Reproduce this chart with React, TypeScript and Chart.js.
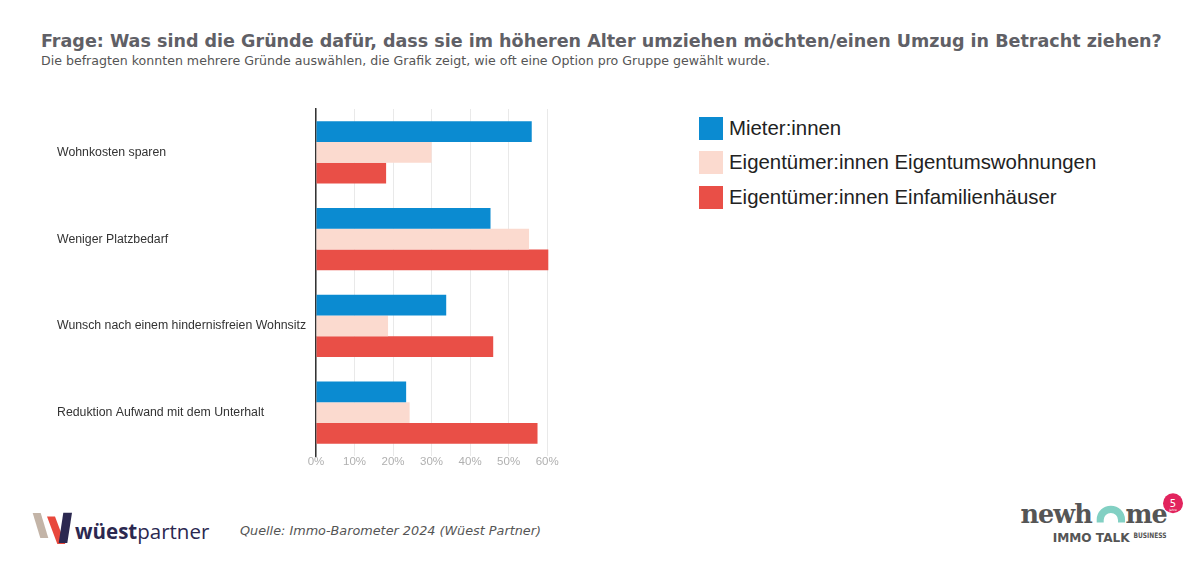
import React, { useEffect, useRef } from "react";
import { Chart, registerables } from "chart.js";

Chart.register(...registerables);

const categories = [
  "Wohnkosten sparen",
  "Weniger Platzbedarf",
  "Wunsch nach einem hindernisfreien Wohnsitz",
  "Reduktion Aufwand mit dem Unterhalt",
];
const seriesNames = [
  "Mieter:innen",
  "Eigentümer:innen Eigentumswohnungen",
  "Eigentümer:innen Einfamilienhäuser",
];
const mieter = [56, 45.3, 33.8, 23.4];
const eigentumswohnungen = [30, 55.3, 18.7, 24.3];
const einfamilienhaeuser = [18.2, 60.3, 46, 57.5];
const seriesColors = ["#0b8bd1", "#fbdacf", "#e94f47"];
const xMax = 61;
const xStep = 10;

const titleText =
  "Frage: Was sind die Gründe dafür, dass sie im höheren Alter umziehen möchten/einen Umzug in Betracht ziehen?";
const subtitleText =
  "Die befragten konnten mehrere Gründe auswählen, die Grafik zeigt, wie oft eine Option pro Gruppe gewählt wurde.";
const sourceText = "Quelle: Immo-Barometer 2024 (Wüest Partner)";

function BarChart() {
  const ref = useRef<HTMLCanvasElement | null>(null);
  useEffect(() => {
    if (!ref.current) return;
    const values = [mieter, eigentumswohnungen, einfamilienhaeuser];
    const chart = new Chart(ref.current, {
      type: "bar",
      data: {
        labels: categories,
        datasets: seriesNames.map((name, i) => ({
          label: name,
          data: values[i],
          backgroundColor: seriesColors[i],
          borderWidth: 0,
          barPercentage: 1,
          categoryPercentage: 0.718,
        })),
      },
      options: {
        indexAxis: "y",
        responsive: false,
        animation: false,
        layout: { padding: { left: 57, top: 109, bottom: 4, right: 49 } },
        plugins: {
          legend: { display: false },
          tooltip: { enabled: false },
          title: { display: false },
        },
        scales: {
          x: {
            min: 0,
            max: xMax,
            afterFit: (scale: any) => {
              scale.height = 20;
            },
            grid: { color: "#e9e9e9", lineWidth: 1, drawTicks: false },
            border: { display: false },
            ticks: {
              stepSize: xStep,
              includeBounds: false,
              padding: -1,
              color: "#b0b0b0",
              font: { family: "'Liberation Sans', Arial, sans-serif", size: 11.5 },
              callback: (v: any) => v + "%",
            },
          },
          y: {
            afterFit: (scale: any) => {
              scale.width = 259;
            },
            grid: { display: false, drawTicks: false },
            border: { display: true, color: "#333333", width: 1.5 },
            ticks: {
              crossAlign: "far",
              color: "#333333",
              font: { family: "'Liberation Sans', Arial, sans-serif", size: 12.3 },
            },
          },
        },
      },
    });
    return () => chart.destroy();
  }, []);
  return (
    <canvas
      ref={ref}
      width={600}
      height={480}
      style={{ position: "absolute", left: 0, top: 0, width: 600, height: 480 }}
    />
  );
}

function Legend() {
  return (
    <div style={{ position: "absolute", left: 699, top: 111 }}>
      {seriesNames.map((name, i) => (
        <div
          key={name}
          style={{ display: "flex", alignItems: "center", height: 34.5 }}
        >
          <div
            style={{
              width: 24,
              height: 23,
              background: seriesColors[i],
              marginRight: 6,
              flex: "none",
            }}
          />
          <span
            style={{
              fontFamily: "'Liberation Sans', Arial, sans-serif",
              fontSize: 20.4,
              color: "#222",
              whiteSpace: "nowrap",
            }}
          >
            {name}
          </span>
        </div>
      ))}
    </div>
  );
}

function WuestLogo() {
  return (
    <svg
      width={200}
      height={50}
      style={{ position: "absolute", left: 20, top: 500 }}
      viewBox="0 0 200 50"
    >
      <polygon points="12.7,13 20.7,13 28.3,38 20.3,38" fill="#c3b4a7" />
      <polygon points="27,16.5 35,16.5 45.3,44 37.3,44" fill="#e8483c" />
      <polygon points="43.3,12.7 52,12.7 47.3,43 38.7,43" fill="#2b2850" />
      <text
        x={55}
        y={39}
        fontFamily="'Open Sans', 'Noto Sans', sans-serif"
        fontSize={20.5}
        fill="#2b2850"
      >
        <tspan fontWeight={700}>wüest</tspan>
        <tspan fontWeight={400}>partner</tspan>
      </text>
    </svg>
  );
}

function NewhomeLogo() {
  return (
    <svg
      width={190}
      height={75}
      style={{ position: "absolute", left: 1010, top: 485 }}
      viewBox="0 0 190 75"
    >
      <text
        x={10.5}
        y={37.5}
        fontFamily="'DejaVu Serif', serif"
        fontWeight={700}
        fontSize={25.5}
        fill="#555555"
        letterSpacing={-1}
      >
        newh
      </text>
      <path
        d="M86.7,37.5 L86.7,34.5 A14.15,13.8 0 0 1 115,34.5 L115,37.5 L108,37.5 L108,35 A7.15,7 0 0 0 93.7,35 L93.7,37.5 Z"
        fill="#82d0c3"
      />
      <text
        x={115.5}
        y={37.5}
        fontFamily="'DejaVu Serif', serif"
        fontWeight={700}
        fontSize={25.5}
        fill="#555555"
        letterSpacing={-1}
      >
        me
      </text>
      <text
        x={42.7}
        y={57}
        fontFamily="'DejaVu Sans', sans-serif"
        fontWeight={700}
        fontSize={13}
        fill="#555555"
        textLength={77}
        lengthAdjust="spacingAndGlyphs"
      >
        IMMO TALK
      </text>
      <text
        x={123.5}
        y={53}
        fontFamily="'DejaVu Sans', sans-serif"
        fontWeight={700}
        fontSize={7.4}
        fill="#555555"
        textLength={33}
        lengthAdjust="spacingAndGlyphs"
      >
        BUSINESS
      </text>
      <circle cx={163} cy={18.3} r={10} fill="#e2245e" />
      <text
        x={163}
        y={21.5}
        textAnchor="middle"
        fontFamily="'DejaVu Sans', sans-serif"
        fontSize={10}
        fill="#ffffff"
      >
        5
      </text>
      <text
        x={163}
        y={26}
        textAnchor="middle"
        fontFamily="'DejaVu Sans', sans-serif"
        fontSize={3}
        fill="#ffffff"
      >
        Jahre
      </text>
    </svg>
  );
}

export default function App() {
  return (
    <div
      style={{
        position: "fixed",
        left: 0,
        top: 0,
        width: 1200,
        height: 570,
        background: "#ffffff",
        overflow: "hidden",
      }}
    >
      <div
        style={{
          position: "absolute",
          left: 41,
          top: 30,
          fontFamily: "'DejaVu Sans', Verdana, sans-serif",
          fontWeight: 700,
          fontSize: 17.55,
          lineHeight: "22px",
          color: "#606066",
          whiteSpace: "nowrap",
        }}
      >
        {titleText}
      </div>
      <div
        style={{
          position: "absolute",
          left: 41,
          top: 53,
          fontFamily: "'DejaVu Sans', Verdana, sans-serif",
          fontSize: 12.6,
          lineHeight: "16px",
          color: "#555555",
          whiteSpace: "nowrap",
        }}
      >
        {subtitleText}
      </div>
      <BarChart />
      <Legend />
      <WuestLogo />
      <div
        style={{
          position: "absolute",
          left: 240,
          top: 523,
          fontFamily: "'DejaVu Sans', Verdana, sans-serif",
          fontStyle: "italic",
          fontSize: 12.8,
          lineHeight: "16px",
          color: "#555555",
          whiteSpace: "nowrap",
        }}
      >
        {sourceText}
      </div>
      <NewhomeLogo />
    </div>
  );
}
